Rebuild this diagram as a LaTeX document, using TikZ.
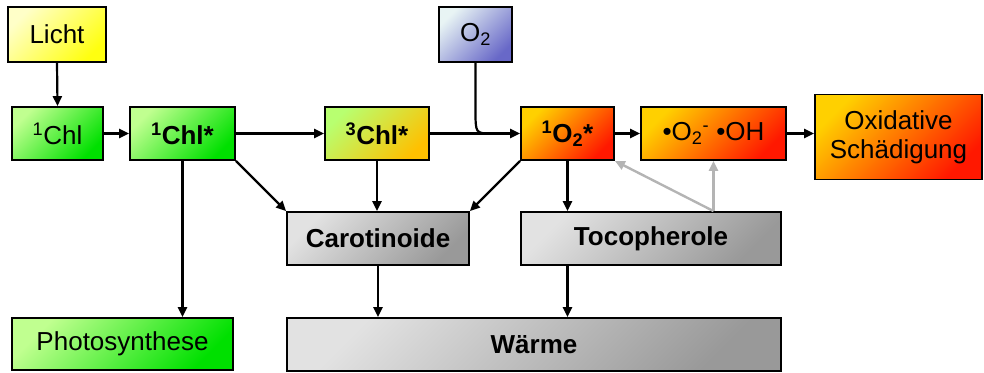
\documentclass[tikz,border=0pt]{standalone}
\usepackage{fontspec}
\setmainfont{Liberation Sans}
\usetikzlibrary{arrows.meta}
\definecolor{ylA}{HTML}{FFFFC8}\definecolor{ylB}{HTML}{FFFF10}
\definecolor{grA}{HTML}{C0FF90}\definecolor{grB}{HTML}{00E000}
\definecolor{gyA}{HTML}{B8FF70}\definecolor{gyB}{HTML}{FFC000}
\definecolor{blA}{HTML}{E8F4F4}\definecolor{blB}{HTML}{6868C8}
\definecolor{orA}{HTML}{FFD000}\definecolor{orB}{HTML}{FF1800}
\definecolor{gyLa}{HTML}{E2E2E2}\definecolor{gyLb}{HTML}{999999}
\definecolor{lgray}{HTML}{B4B4B4}
\begin{document}
\begin{tikzpicture}[x=1pt,y=-1pt,
  box/.style={draw=black,line width=1.8pt,inner sep=0pt,align=center,
    font=\fontsize{26}{29}\selectfont,shading=axis,shading angle=45},
  yel/.style={top color=ylA,bottom color=ylB,box},
  grn/.style={top color=grA,bottom color=grB,box},
  gry/.style={top color=gyA,bottom color=gyB,box},
  blu/.style={top color=blA,bottom color=blB,box},
  org/.style={top color=orA,bottom color=orB,box},
  gra/.style={top color=gyLa,bottom color=gyLb,box},
  arr/.style={line width=2.2pt,-{Triangle[length=10pt,width=9pt]}},
  garr/.style={draw=lgray,line width=2.4pt,-{Triangle[length=10pt,width=9pt]}}]
\useasboundingbox (0,0) rectangle (984,372);
\node[yel,minimum width=98pt,minimum height=55pt] (licht) at (57,34.5) {Licht};
\node[grn,minimum width=91pt,minimum height=53pt] (chl1) at (57.5,133.5) {\textsuperscript{1}Chl};
\node[grn,minimum width=105pt,minimum height=53pt] (chls) at (182.5,133.5) {\textbf{\textsuperscript{1}Chl*}};
\node[gry,minimum width=104pt,minimum height=53pt] (chl3) at (377,133.5) {\textbf{\textsuperscript{3}Chl*}};
\node[blu,minimum width=73pt,minimum height=55pt] (o2) at (475.5,34.5) {O\textsubscript{2}};
\node[org,minimum width=93pt,minimum height=53pt] (so2) at (567.5,133.5) {\textbf{\textsuperscript{1}O\textsubscript{2}*}};
\node[org,minimum width=145pt,minimum height=53pt] (rad) at (713.5,133.5) {•O\textsubscript{2}\textsuperscript{-} •OH};
\node[org,minimum width=167pt,minimum height=85pt] (ox) at (898.5,137) {Oxidative\\Schädigung};
\node[gra,minimum width=182pt,minimum height=53pt] (car) at (378,238.5) {\textbf{Carotinoide}};
\node[gra,minimum width=260pt,minimum height=53pt] (toc) at (651,238.5) {\textbf{Tocopherole}};
\node[gra,minimum width=494pt,minimum height=53pt] (wae) at (534,344.5) {\textbf{Wärme}};
\node[grn,minimum width=221pt,minimum height=52pt] (photo) at (122.5,344) {Photosynthese};
% main chain
\draw[arr] (licht.south) -- (chl1.north);
\draw[arr] (chl1.east) -- (chls.west);
\draw[arr] (chls.east) -- (chl3.west);
\coordinate (merge) at (492,133.5);
\draw[line width=2.2pt] (o2.south) -- (475.5,110) .. controls (475.5,133.5) .. (merge);
\draw[arr] (chl3.east) -- (so2.west);
\draw[arr] (so2.east) -- (rad.west);
\draw[arr] (rad.east) -- (rad.east -| ox.west);
% downward
\draw[arr] (chls.south) -- (chls.south |- photo.north);
\draw[arr] (chls.south east) -- (car.north west);
\draw[arr] (chl3.south) -- (chl3.south |- car.north);
\draw[arr] (so2.south west) -- (car.north east);
\draw[arr] (so2.south) -- (so2.south |- toc.north);
\draw[arr] (car.south) -- (car.south |- wae.north);
\draw[arr] (so2.south |- toc.south) -- (so2.south |- wae.north);
% gray
\coordinate (g) at (rad.south |- toc.north);
\draw[garr] (g) -- (rad.south);
\draw[garr] (g) -- (so2.south east);
\end{tikzpicture}
\end{document}
